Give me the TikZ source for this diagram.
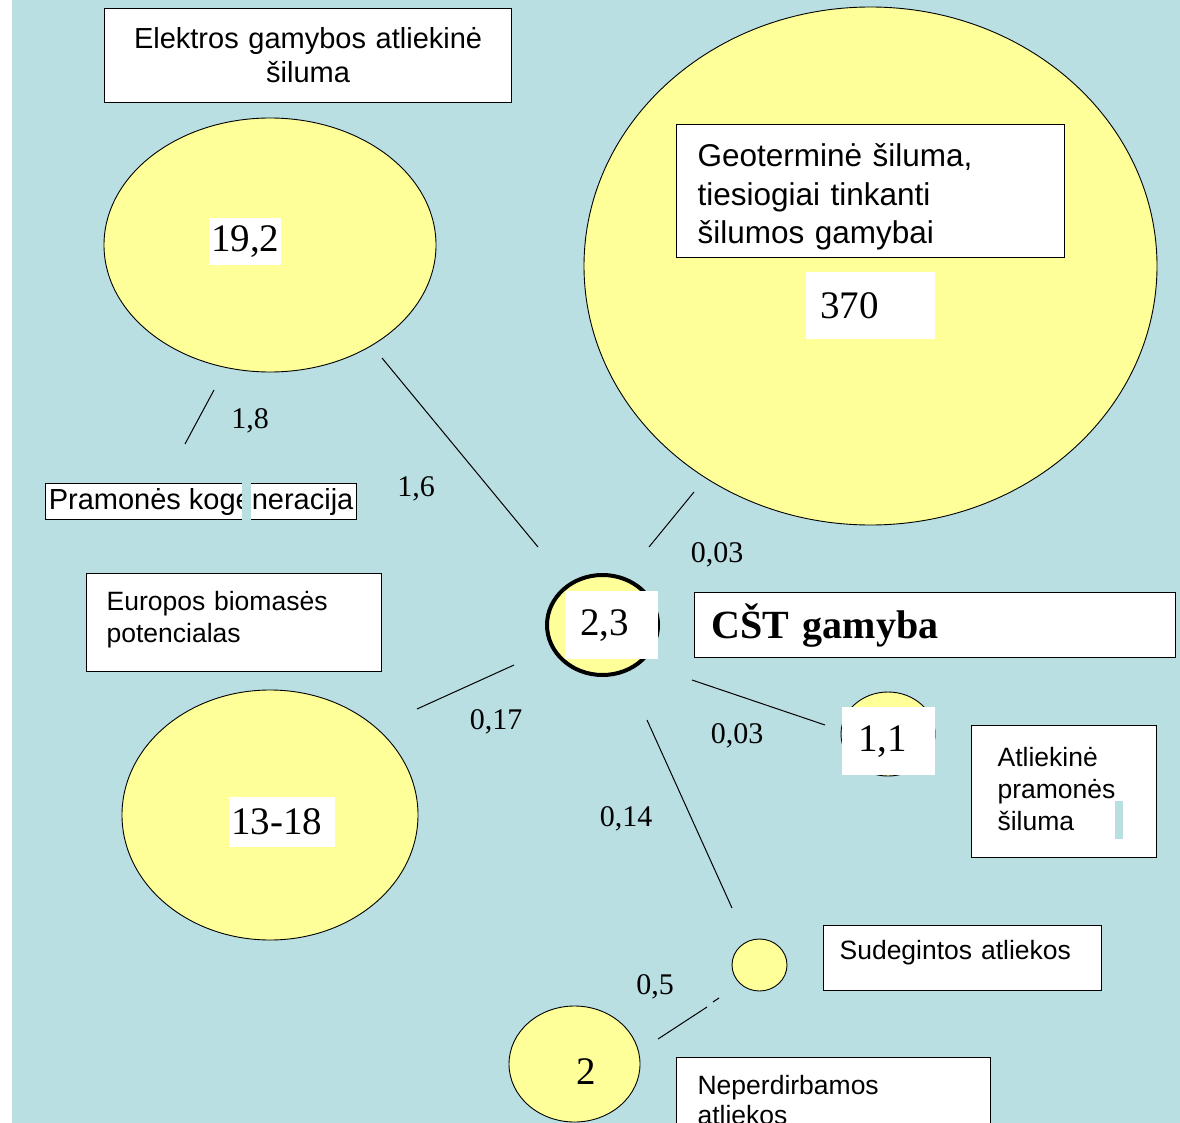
\documentclass[tikz,border=0pt]{standalone}
\usepackage{fontspec}
\setmainfont{Liberation Serif}
\newfontfamily\lsans{Liberation Sans}
\usetikzlibrary{shapes.geometric}
\definecolor{bgblue}{RGB}{185,223,226}
\definecolor{blobyellow}{RGB}{255,255,153}

\begin{document}
\begin{tikzpicture}[x=1pt,y=-1pt,
    blob/.style={ellipse,draw,fill=blobyellow,inner sep=0pt,line width=0.9pt},
    tbox/.style={draw,fill=white,line width=1.2pt,inner ysep=0pt,anchor=north west,
      font=\lsans\fontsize{26.5}{32}\selectfont},
    numbox/.style={fill=white,inner ysep=0pt,align=left,anchor=north west,
      font=\fontsize{39}{44}\selectfont},
    val/.style={inner sep=0pt,yshift=-3pt,font=\fontsize{30}{34}\selectfont},
    link/.style={line width=1pt}]
    \useasboundingbox (0,0) rectangle (1180,1123);
    \fill[bgblue] (12,0) rectangle (1180,1123);
    \clip (0,0) rectangle (1180,1123);

    % ellipses
    \node[blob,minimum width=332,minimum height=254] (elek) at (270,245) {};
    \node[blob,minimum width=573,minimum height=518] (geo) at (870.5,266) {};
    \node[blob,minimum width=296,minimum height=250] (bio) at (270,815) {};
    \node[blob,minimum width=94,minimum height=84] (pram) at (888,734) {};
    \node[blob,minimum width=55,minimum height=52] (sud) at (759.5,965) {};
    \node[blob,minimum width=131,minimum height=116] (nep) at (574.5,1064) {};
    \node[blob,line width=4pt,minimum width=111,minimum height=100] (cst) at (602.5,625) {};

    % connectors
    \coordinate (A) at (214,390);  \coordinate (A2) at (185,444);
    \coordinate (B) at (382,358);  \coordinate (B2) at (538,547);
    \coordinate (C) at (694,492);  \coordinate (C2) at (649,547);
    \coordinate (D) at (514,665);  \coordinate (D2) at (417,709);
    \coordinate (E) at (692,680);  \coordinate (E2) at (825,725);
    \coordinate (F) at (647,720);  \coordinate (F2) at (732,908);
    \coordinate (G) at (658,1039); \coordinate (G2) at (707,1007);
    \coordinate (H) at (713,1002); \coordinate (H2) at (719,998);

    \draw[link] (A) -- (A2);
    \draw[link] (B) -- (B2);
    \draw[link] (C) -- (C2);
    \draw[link] (D) -- (D2);
    \draw[link] (E) -- (E2);
    \draw[link] (F) -- (F2);
    \draw[link] (G) -- (G2);
    \draw[link] (H) -- (H2);

    \node[val] (vA) at (250,418) {1,8};
    \node[val] (vB) at (416,486) {1,6};
    \node[val] (vC) at (717,552) {0,03};
    \node[val] (vD) at (496,719) {0,17};
    \node[val] (vE) at (737,733) {0,03};
    \node[val] (vF) at (626,816) {0,14};
    \node[val] (vG) at (655,984) {0,5};

    % text boxes
    \node[tbox,font=\lsans\fontsize{29}{34}\selectfont,align=center,
      text width=387,inner xsep=10,minimum height=94] (telek) at (104,8)
      {Elektros gamybos atliekinė\\šiluma};
    \node[tbox,font=\lsans\fontsize{31.5}{38.5}\selectfont,align=left,
      text width=346,inner xsep=21,minimum height=133] (tgeo) at (676,124)
      {\rule{0pt}{35pt}Geoterminė šiluma,\\tiesiogiai tinkanti\\šilumos gamybai};
    \node[tbox,font=\lsans\fontsize{29}{34}\selectfont,
      inner xsep=0,minimum width=311,minimum height=36] (tkog) at (45,483)
      {Pramonės kogeneracija};
    \node[tbox,align=left,text width=255,inner xsep=20,minimum height=98] (tbio) at (86,573)
      {Europos biomasės\\potencialas\rule[-11.5pt]{0pt}{11.5pt}};
    \node[tbox,font=\bfseries\fontsize{40}{44}\selectfont,align=left,
      text width=447,inner xsep=17,minimum height=65] (tcst) at (694,592)
      {CŠT gamyba};
    \node[tbox,align=left,text width=133,inner xsep=26,minimum height=132] (tpram) at (971,725)
      {Atliekinė\\pramonės\\šiluma\rule[-5pt]{0pt}{5pt}};
    \node[tbox,align=left,text width=246,inner xsep=16,minimum height=65] (tsud) at (823,925)
      {Sudegintos atliekos\rule[-16pt]{0pt}{16pt}};
    \node[tbox,font=\lsans\fontsize{26.5}{30}\selectfont,align=left,
      text width=272,inner xsep=21,minimum height=93] (tnep) at (676,1057)
      {Neperdirbamos\\atliekos\rule[-8pt]{0pt}{8pt}};

    \fill[bgblue] (242,482) rectangle (251,520);
    \fill[bgblue] (1115,801) rectangle (1123,839);

    % values in the ellipses
    \node[numbox,text width=68,inner xsep=2,minimum height=47] (n19) at (209,218) {19,2};
    \node[numbox,text width=101,inner xsep=14,minimum height=67] (n370) at (806,272) {370};
    \node[numbox,text width=63,inner xsep=15,minimum height=68] (n23) at (565,591) {2,3};
    \node[numbox,text width=61,inner xsep=16,minimum height=68] (n11) at (842,707) {1,1};
    \node[numbox,text width=102,inner xsep=2,minimum height=50] (n1318) at (229,797) {13-18};
    \node[inner sep=0pt,font=\fontsize{39}{44}\selectfont] (n2) at (586,1072) {2};
\end{tikzpicture}
\end{document}
